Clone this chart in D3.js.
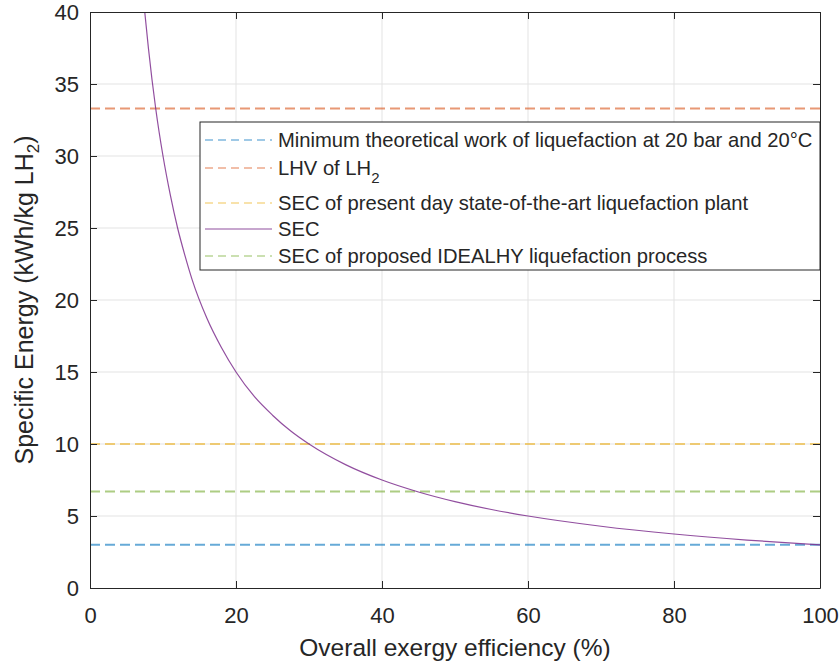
<!DOCTYPE html>
<html>
<head>
<meta charset="utf-8">
<script src="https://cdn.jsdelivr.net/npm/d3@7"></script>
<style>
  body { margin: 0; background: #fff; overflow: hidden; }
  svg { display: block; }
  svg text { font-family: "Liberation Sans", Arial, sans-serif; fill: #262626; }
</style>
</head>
<body>
<div id="chart"></div>
<script>
// data
const efficiency = [7.5, 8, 9, 10, 11, 12, 13, 14, 16, 18, 20, 22.5, 25, 27.5, 30, 35, 40, 45, 50, 55, 60, 70, 80, 90, 100]; // %
const sec = [40, 37.5, 33.3, 30, 27.3, 25, 23.1, 21.4, 18.75, 16.7, 15, 13.3, 12, 10.9, 10, 8.57, 7.5, 6.67, 6, 5.45, 5, 4.29, 3.75, 3.33, 3];
const refNames = ["Minimum theoretical work of liquefaction at 20 bar and 20°C", "LHV of LH", "SEC of present day state-of-the-art liquefaction plant", "SEC", "SEC of proposed IDEALHY liquefaction process"];
const refValues = [3, 33.3, 10, null, 6.7];
const colors = ["#0072BD", "#D95319", "#EDB120", "#7E2F8E", "#77AC30"];
const xTicks = [0, 20, 40, 60, 80, 100];
const yTicks = [0, 5, 10, 15, 20, 25, 30, 35, 40];

const width = 840, height = 665;
const margin = {top: 12, right: 20, bottom: 77, left: 90};
const innerWidth = width - margin.left - margin.right;
const innerHeight = height - margin.top - margin.bottom;

const svg = d3.select("#chart").append("svg")
    .attr("width", width)
    .attr("height", height);

const g = svg.append("g")
    .attr("transform", `translate(${margin.left},${margin.top})`);

const xScale = d3.scaleLinear().domain([0, 100]).range([0, innerWidth]);
const yScale = d3.scaleLinear().domain([0, 40]).range([innerHeight, 0]);

// grid
g.append("g").selectAll("line").data(xTicks.slice(1, -1)).join("line")
    .attr("x1", d => xScale(d)).attr("x2", d => xScale(d))
    .attr("y1", 0).attr("y2", innerHeight)
    .attr("stroke", "#e3e3e3").attr("stroke-width", 1);
g.append("g").selectAll("line").data(yTicks.slice(1, -1)).join("line")
    .attr("x1", 0).attr("x2", innerWidth)
    .attr("y1", d => yScale(d)).attr("y2", d => yScale(d))
    .attr("stroke", "#e3e3e3").attr("stroke-width", 1);

// clip for lines
svg.append("defs").append("clipPath").attr("id", "clip")
    .append("rect").attr("width", innerWidth).attr("height", innerHeight);

const lines = g.append("g").attr("clip-path", "url(#clip)");

// horizontal reference lines
refValues.forEach((v, i) => {
    if (v === null) return;
    lines.append("line")
        .attr("x1", 0).attr("x2", innerWidth)
        .attr("y1", yScale(v)).attr("y2", yScale(v))
        .attr("stroke", colors[i])
        .attr("stroke-opacity", 0.6)
        .attr("stroke-width", 2)
        .attr("stroke-dasharray", "10,5");
});

// SEC curve
const lineGenerator = d3.line()
    .x((d, i) => xScale(efficiency[i]))
    .y(d => yScale(d))
    .curve(d3.curveMonotoneX);

lines.append("path")
    .attr("d", lineGenerator(sec))
    .attr("fill", "none")
    .attr("stroke", colors[3])
    .attr("stroke-opacity", 0.85)
    .attr("stroke-width", 1.2);

// axes (matlab box style, ticks inside)
const xAxis = d3.axisBottom(xScale).tickValues(xTicks).tickSizeInner(-7).tickSizeOuter(0).tickPadding(19);
const yAxis = d3.axisLeft(yScale).tickValues(yTicks).tickSizeInner(-7).tickSizeOuter(0).tickPadding(11);

g.append("g").attr("transform", `translate(0,${innerHeight})`).call(xAxis);
g.append("g").call(yAxis);
const topAxis = g.append("g")
    .call(d3.axisTop(xScale).tickValues(xTicks).tickSizeInner(-7).tickSizeOuter(0));
const rightAxis = g.append("g").attr("transform", `translate(${innerWidth},0)`)
    .call(d3.axisRight(yScale).tickValues(yTicks).tickSizeInner(-7).tickSizeOuter(0));
topAxis.selectAll("text").remove();
rightAxis.selectAll("text").remove();

g.selectAll(".domain").attr("stroke", "#262626").attr("stroke-width", 1);
g.selectAll(".tick line").attr("stroke", "#262626");
g.selectAll(".tick text").attr("font-size", 22).attr("fill", "#262626");

// axis labels
svg.append("text")
    .attr("x", margin.left + innerWidth / 2)
    .attr("y", 656)
    .attr("text-anchor", "middle")
    .attr("font-size", 24.5)
    .text("Overall exergy efficiency (%)");

const yLabel = svg.append("text")
    .attr("transform", `translate(33,${margin.top + innerHeight / 2}) rotate(-90)`)
    .attr("text-anchor", "middle")
    .attr("font-size", 25);
yLabel.append("tspan").text("Specific Energy (kWh/kg LH");
yLabel.append("tspan").attr("font-size", 17).attr("dy", 6).text("2");
yLabel.append("tspan").attr("dy", -6).text(")");

// legend
const legend = svg.append("g");
legend.append("rect")
    .attr("x", 200).attr("y", 122)
    .attr("width", 620).attr("height", 148)
    .attr("fill", "#fff")
    .attr("stroke", "#262626").attr("stroke-width", 1);

const rowY = [140, 168, 203, 229, 256];
refNames.forEach((name, i) => {
    legend.append("line")
        .attr("x1", 205).attr("x2", 272)
        .attr("y1", rowY[i]).attr("y2", rowY[i])
        .attr("stroke", colors[i])
        .attr("stroke-opacity", i === 3 ? 0.85 : 0.75)
        .attr("stroke-width", 1.2)
        .attr("stroke-dasharray", i === 3 ? null : "8,5");
    const t = legend.append("text")
        .attr("x", 278).attr("y", rowY[i] + 7)
        .attr("font-size", 20.2)
        .text(name);
    if (i === 1) {
        t.append("tspan").attr("font-size", 15).attr("dy", 8).text("2");
    }
});
</script>
</body>
</html>
